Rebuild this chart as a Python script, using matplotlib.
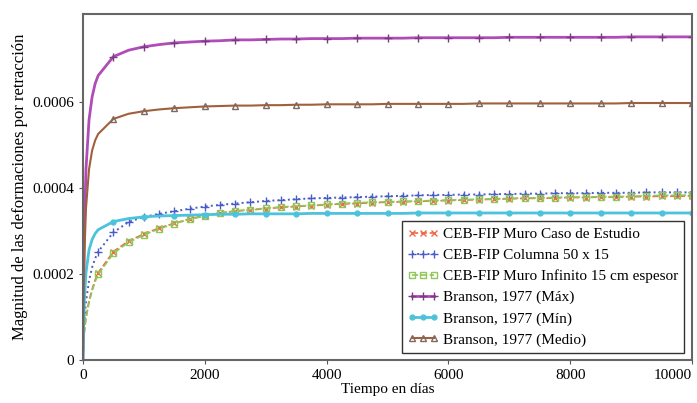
import matplotlib
matplotlib.use('Agg')
import matplotlib.pyplot as plt

plt.rcParams['font.family'] = ['Liberation Serif', 'DejaVu Serif']

# tiempo en dias
dias = [0, 10, 25, 50, 100, 150, 200,
        250, 500, 750, 1000, 1250, 1500, 1750, 2000, 2250, 2500,
        2750, 3000, 3250, 3500, 3750, 4000, 4250, 4500, 4750, 5000,
        5250, 5500, 5750, 6000, 6250, 6500, 6750, 7000, 7250, 7500,
        7750, 8000, 8250, 8500, 8750, 9000, 9250, 9500, 9750, 10000]

muro_caso = [0, 0.000045, 0.00007, 0.0001, 0.000138, 0.000164, 0.000186,
             0.000203, 0.000252, 0.000277, 0.000293, 0.000307, 0.000318, 0.000328, 0.000336, 0.000342, 0.000346,
             0.000349, 0.000352, 0.000355, 0.000357, 0.000359, 0.000361, 0.000363, 0.000364, 0.000366, 0.000367,
             0.000368, 0.000369, 0.00037, 0.000371, 0.000372, 0.000373, 0.000374, 0.000375, 0.000376, 0.000376,
             0.000377, 0.000378, 0.000378, 0.000379, 0.000379, 0.00038, 0.00038, 0.000381, 0.000381, 0.000382]

columna = [0, 0.00006, 0.000095, 0.000135, 0.000185, 0.000215, 0.000236,
           0.000252, 0.000297, 0.000321, 0.000333, 0.000340, 0.000346, 0.000352, 0.000357, 0.000361, 0.000364,
           0.000367, 0.00037, 0.000372, 0.000374, 0.000376, 0.000377, 0.000378, 0.000379, 0.00038, 0.000381,
           0.000382, 0.000383, 0.000384, 0.000384, 0.000385, 0.000385, 0.000386, 0.000386, 0.000387, 0.000387,
           0.000388, 0.000388, 0.000388, 0.000389, 0.000389, 0.000389, 0.00039, 0.00039, 0.00039, 0.00039]

muro_infinito = [0, 0.000042, 0.000066, 0.000096, 0.000133, 0.00016, 0.000182,
                 0.000199, 0.000248, 0.000274, 0.000291, 0.000305, 0.000317, 0.000327, 0.000335, 0.000342, 0.000347,
                 0.00035, 0.000353, 0.000356, 0.000358, 0.00036, 0.000362, 0.000364, 0.000366, 0.000367, 0.000368,
                 0.000369, 0.00037, 0.000371, 0.000372, 0.000373, 0.000374, 0.000375, 0.000376, 0.000377, 0.000377,
                 0.000378, 0.000379, 0.000379, 0.00038, 0.00038, 0.000381, 0.000382, 0.000383, 0.000383, 0.000384]

branson_max = [0, 0.000168, 0.000315, 0.000444, 0.000559, 0.000612, 0.000643,
               0.000662, 0.000706, 0.000721, 0.000729, 0.000734, 0.000738, 0.00074, 0.000742, 0.000743, 0.000745,
               0.000745, 0.000746, 0.000747, 0.000747, 0.000748, 0.000748, 0.000748, 0.000749, 0.000749, 0.000749,
               0.000749, 0.00075, 0.00075, 0.00075, 0.00075, 0.00075, 0.00075, 0.000751, 0.000751, 0.000751,
               0.000751, 0.000751, 0.000751, 0.000751, 0.000751, 0.000752, 0.000752, 0.000752, 0.000752, 0.000752]

branson_min = [0, 0.000077, 0.000144, 0.000203, 0.000256, 0.00028, 0.000294,
               0.000303, 0.000322, 0.000329, 0.000333, 0.000335, 0.000336, 0.000337, 0.000338, 0.000339, 0.000339,
               0.00034, 0.00034, 0.00034, 0.00034, 0.000341, 0.000341, 0.000341, 0.000341, 0.000341, 0.000341,
               0.000341, 0.000342, 0.000342, 0.000342, 0.000342, 0.000342, 0.000342, 0.000342, 0.000342, 0.000342,
               0.000342, 0.000342, 0.000342, 0.000342, 0.000342, 0.000342, 0.000342, 0.000342, 0.000342, 0.000342]

branson_medio = [0, 0.000134, 0.000252, 0.000353, 0.000444, 0.000487, 0.000511,
                 0.000526, 0.000561, 0.000573, 0.000579, 0.000583, 0.000586, 0.000588, 0.00059, 0.000591, 0.000592,
                 0.000592, 0.000593, 0.000593, 0.000594, 0.000594, 0.000595, 0.000595, 0.000595, 0.000595, 0.000596,
                 0.000596, 0.000596, 0.000596, 0.000596, 0.000596, 0.000597, 0.000597, 0.000597, 0.000597, 0.000597,
                 0.000597, 0.000597, 0.000597, 0.000597, 0.000597, 0.000598, 0.000598, 0.000598, 0.000598, 0.000598]

etiquetas = ['CEB-FIP Muro Caso de Estudio', 'CEB-FIP Columna 50 x 15',
             'CEB-FIP Muro Infinito 15 cm espesor', 'Branson, 1977 (Máx)',
             'Branson, 1977 (Mín)', 'Branson, 1977 (Medio)']

yticks = [0, 0.0002, 0.0004, 0.0006]
ytick_labels = ['0', '0.0002', '0.0004', '0.0006']
xticks = [0, 2000, 4000, 6000, 8000, 10000]

# markers every 250 days for CEB-FIP, every 500 for Branson
m250 = [i for i, d in enumerate(dias) if d >= 250 and d % 250 == 0]
m500 = [i for i, d in enumerate(dias) if d >= 500 and d % 500 == 0]

fig = plt.figure(figsize=(6.97, 4.03), dpi=100)
ax = fig.add_axes([0.119, 0.107, 0.874, 0.858])

ax.plot(dias, muro_caso, color='#ee6a4a', ls='--', lw=1.2, marker='x', ms=5,
        markevery=m250, label=etiquetas[0])
ax.plot(dias, columna, color='#4a5cc8', ls=':', lw=1.4, marker='+', ms=6,
        markevery=m250, label=etiquetas[1])
ax.plot(dias, muro_infinito, color='#8fc858', ls='--', lw=1.2, marker='s', ms=4,
        mfc='none', markevery=m250, label=etiquetas[2])
ax.plot(dias, branson_max, color='#b04cb8', lw=2, marker='+', ms=6, mec='#7a3a80',
        markevery=m500, label=etiquetas[3])
ax.plot(dias, branson_min, color='#4cc3dc', lw=2, marker='o', ms=3.5,
        markevery=m500, label=etiquetas[4])
ax.plot(dias, branson_medio, color='#a0603c', lw=1.5, marker='^', ms=5, mfc='none',
        mec='#806860', markevery=m500, label=etiquetas[5])

ax.set_xlim(0, 10000)
ax.set_ylim(0, 0.000805)
ax.set_xticks(xticks)
ax.set_xticklabels([str(x) for x in xticks])
ax.get_xticklabels()[-1].set_ha('right')
ax.set_yticks(yticks)
ax.set_yticklabels(ytick_labels)
ax.tick_params(labelsize=11, length=3, color='#555555')
for s in ax.spines.values():
    s.set_color('#666666')
    s.set_linewidth(1.5)

ax.set_xlabel('Tiempo en días', fontsize=11, labelpad=1)
ax.set_ylabel('Magnitud de las deformaciones por retracción', fontsize=12, labelpad=3)

leg = ax.legend(loc='lower right', bbox_to_anchor=(0.987, 0.02), borderaxespad=0,
                fontsize=11, fancybox=False, framealpha=1, edgecolor='#333333',
                numpoints=3, handlelength=2, handletextpad=0.3, labelspacing=0.48,
                borderpad=0.4)
leg.get_frame().set_linewidth(1.0)

fig.savefig('out.png', dpi=100)
